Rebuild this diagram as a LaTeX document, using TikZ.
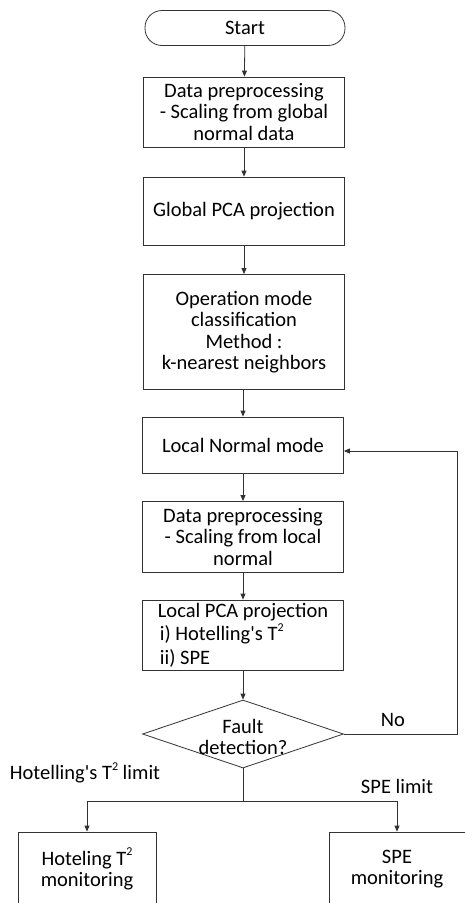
\documentclass[tikz,border=0pt]{standalone}
\usepackage{fontspec}
\setmainfont{Carlito}
\usetikzlibrary{shapes.geometric,arrows.meta}
\newcommand{\sqtwo}{\raisebox{0.45em}{\fontsize{12}{12}\selectfont 2}}
\begin{document}
\begin{tikzpicture}[x=1pt,y=-1pt,
  font=\fontsize{20.5}{21.5}\selectfont,
  box/.style={draw=black!80, line width=0.8pt, rectangle, align=center, minimum width=201pt, inner sep=2pt},
  term/.style={draw=black!80, line width=0.8pt, rectangle, rounded corners=17pt, minimum width=200pt, minimum height=35pt},
  decision/.style={draw=black!80, line width=0.8pt, diamond, minimum width=201pt, minimum height=68pt, inner sep=0pt},
  arr/.style={draw=black!80, line width=0.8pt, -{Triangle[length=6pt,width=5pt]}},
  ln/.style={draw=black!80, line width=0.8pt}]
\useasboundingbox (0,0) rectangle (465,903);
\clip (0,0) rectangle (465,903);
\node[term] (start) at (245,28) {Start};
\node[box, minimum height=70pt] (pre1) at (244,112) {Data preprocessing\\- Scaling from global\\normal data};
\node[box, minimum height=68pt] (gpca) at (244,211) {Global PCA projection};
\node[box, minimum height=115pt] (opm) at (244,332) {Operation mode\\classification\\Method :\\k-nearest neighbors};
\node[box, minimum height=56pt] (lnm) at (243,445) {Local Normal mode};
\node[box, minimum height=71pt] (pre2) at (243,537) {Data preprocessing\\- Scaling from local\\normal};
\node[box, minimum height=70pt, align=left, font=\fontsize{20.5}{23.5}\selectfont] (lpca) at (243,635) {Local PCA projection\\\hspace{2pt}i) Hotelling\textquotesingle s T\sqtwo\\\hspace{2pt}ii) SPE};
\node[decision] (dia) at (243,734) {};
\node[align=center] (diatext) at (243,737) {Fault\\detection?};
\node[box, minimum width=138pt, minimum height=74pt] (hmon) at (87,869) {Hoteling T\sqtwo\\monitoring};
\node[box, minimum width=136pt, minimum height=74pt] (smon) at (397,869) {SPE\\monitoring};
\coordinate (loopr) at (457,734);
\coordinate (loopt) at (457,451);
\coordinate (split) at (243,801);
\draw[arr] (start) -- (pre1);
\draw[arr] (pre1) -- (gpca);
\draw[arr] (gpca) -- (opm);
\draw[arr] (opm.south -| lnm) -- (lnm);
\draw[arr] (lnm) -- (pre2);
\draw[arr] (pre2) -- (lpca);
\draw[arr] (lpca) -- (dia);
\draw[arr] (dia.east) -- (loopr) -- (loopt) -- (lnm.east |- loopt);
\draw[ln] (dia.south) -- (split);
\draw[arr] (split) -| (hmon.north);
\draw[arr] (split) -| (smon.north);
\node[anchor=center] (nolab) at (393,720) {No};
\node[anchor=center] (hlim) at (85,773) {Hotelling\textquotesingle s T\sqtwo\ limit};
\node[anchor=center] (slim) at (397,786) {SPE limit};
\end{tikzpicture}
\end{document}
